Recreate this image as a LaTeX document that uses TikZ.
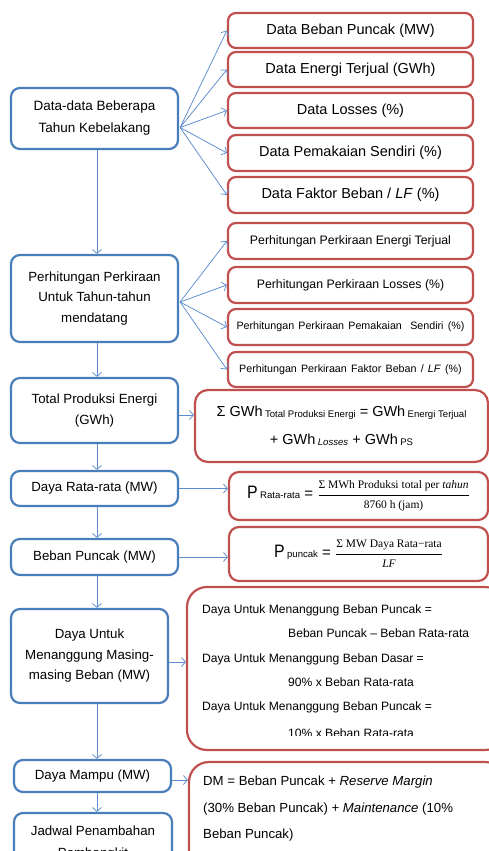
\documentclass[tikz,border=0pt]{standalone}
\usepackage{fontspec}
\setmainfont{Liberation Sans}
\newfontfamily\frsf{Liberation Serif}
\usetikzlibrary{arrows.meta,calc}
\definecolor{bl}{HTML}{4A7EBB}
\definecolor{rd}{HTML}{C0504D}
\definecolor{ln}{HTML}{5B8DCF}
\newcommand\fsz[2]{\fontsize{#1}{#2}\selectfont}
\newcommand\subt[1]{\raisebox{-1.5pt}{\fsz{9.6}{10}#1}}
\newcommand\bigP{\scalebox{0.88}[1]{\fsz{18}{18}P}}
\tikzset{
  bbox/.style={draw=bl, line width=2.2pt, rounded corners=9pt, align=center, inner sep=2pt, fill=white},
  rbox/.style={draw=rd, line width=2.2pt, rounded corners=8pt, align=center, inner sep=2pt, fill=white},
  arr/.style={draw=ln, line width=0.75pt, -{Straight Barb[length=4pt,width=9pt]}},
  txt/.style={anchor=base west, inner sep=0pt},
}
\begin{document}
\begin{tikzpicture}[x=1pt,y=-1pt]
\useasboundingbox (0,0) rectangle (489,851);
\clip (0,0) rectangle (489,851);
\fill[white] (0,0) rectangle (489,851);
% left column
\node[bbox, minimum width=167pt, minimum height=61pt, font=\fsz{13.5}{22}] (A) at (94.5,118.5) {Data-data Beberapa\\Tahun Kebelakang};
\node[bbox, minimum width=167pt, minimum height=87pt, font=\fsz{13.3}{20.5}] (B) at (94.5,298.5) {Perhitungan Perkiraan\\Untuk Tahun-tahun\\mendatang};
\node[bbox, minimum width=167pt, minimum height=65pt, font=\fsz{13.3}{20.5}] (C) at (94.5,410.5) {Total Produksi Energi\\(GWh)};
\node[bbox, minimum width=167pt, minimum height=35pt, font=\fsz{13.3}{20}] (D) at (94.5,488.5) {Daya Rata-rata (MW)};
\node[bbox, minimum width=167pt, minimum height=36pt, font=\fsz{13.3}{20}] (E) at (94.5,557) {Beban Puncak (MW)};
\node[bbox, minimum width=157pt, minimum height=94pt, font=\fsz{13.3}{20.5}] (F) at (89.5,656) {Daya Untuk\\Menanggung Masing-\\masing Beban (MW)};
\node[bbox, minimum width=157pt, minimum height=32pt, font=\fsz{13.3}{20}] (G) at (92.5,776) {Daya Mampu (MW)};
\node[bbox, minimum width=158pt, minimum height=60pt, font=\fsz{13.3}{21.5}] (H) at (93,843) {Jadwal Penambahan\\Pembangkit};
% data boxes
\node[rbox, minimum width=245pt, minimum height=35pt, font=\fsz{14.5}{18}] (D1) at (350.5,30.5) {Data Beban Puncak (MW)};
\node[rbox, minimum width=245pt, minimum height=35pt, font=\fsz{14.5}{18}] (D2) at (350.5,69.5) {Data Energi Terjual (GWh)};
\node[rbox, minimum width=245pt, minimum height=35pt, font=\fsz{14.5}{18}] (D3) at (350.5,110.5) {Data Losses (\%)};
\node[rbox, minimum width=245pt, minimum height=36pt, font=\fsz{14.5}{18}] (D4) at (350.5,153) {Data Pemakaian Sendiri (\%)};
\node[rbox, minimum width=245pt, minimum height=36pt, font=\fsz{14.5}{18}] (D5) at (350.5,195) {Data Faktor Beban / \textit{LF} (\%)};
% perhitungan boxes
\node[rbox, minimum width=245pt, minimum height=36pt, font=\fsz{12.3}{15}] (P1) at (350.5,241) {Perhitungan Perkiraan Energi Terjual};
\node[rbox, minimum width=245pt, minimum height=36pt, font=\fsz{12.3}{15}] (P2) at (350.5,285) {Perhitungan Perkiraan Losses (\%)};
\node[rbox, minimum width=245pt, minimum height=36pt, font=\fsz{10.7}{13}] (P3) at (350.5,327) {\spaceskip=4.2pt Perhitungan Perkiraan Pemakaian\ \ Sendiri (\%)};
\node[rbox, minimum width=245pt, minimum height=35pt, font=\fsz{10.7}{13}] (P4) at (350.5,369.5) {\spaceskip=4.2pt Perhitungan Perkiraan Faktor Beban / \textit{LF} (\%)};
% formula boxes
\node[rbox, rounded corners=13pt, minimum width=293pt, minimum height=72pt, font=\fsz{14.5}{28}] (R1) at (341.5,426)
 {Σ GWh\,\subt{Total Produksi Energi} = GWh\,\subt{Energi Terjual}\\+ GWh\,\subt{\textit{Losses}} + GWh\,\subt{PS}};
\node[rbox, rounded corners=10pt, minimum width=259pt, minimum height=48pt, font=\fsz{15}{18}] (R2) at (358.5,496)
 {\bigP\,{\fsz{9.6}{10}Rata-rata} = $\displaystyle\frac{\hbox{\frsf\fsz{11.5}{12}Σ MWh Produksi total per \textit{tahun}}}{\hbox{\frsf\fsz{11.5}{12}8760 h (jam)}}$};
\node[rbox, rounded corners=10pt, minimum width=259pt, minimum height=54pt, font=\fsz{15}{18}] (R3) at (358.5,554)
 {\bigP\,{\fsz{9.6}{10}puncak} = $\displaystyle\frac{\hbox{\frsf\fsz{11.5}{12}Σ MW Daya Rata−rata}}{\hbox{\frsf\fsz{11.5}{12}\textit{LF}}}$};
\node[rbox, rounded corners=20pt, minimum width=318pt, minimum height=163pt] (R4) at (346,668.5) {};
\node[rbox, rounded corners=20pt, minimum width=316pt, minimum height=120pt] (R5) at (347,822) {};
% R4 text
\begin{scope}[font=\fsz{12.1}{14}]
\clip (190,590) rectangle (480,735);
\node[txt] (t1) at (202,613.5) {Daya Untuk Menanggung Beban Puncak =};
\node[txt] (t2) at (288,637.5) {Beban Puncak – Beban Rata-rata};
\node[txt] (t3) at (202,662) {Daya Untuk Menanggung Beban Dasar =};
\node[txt] (t4) at (288,686.5) {90\% x Beban Rata-rata};
\node[txt] (t5) at (202,710.5) {Daya Untuk Menanggung Beban Puncak =};
\node[txt] (t6) at (288,737.5) {10\% x Beban Rata-rata};
\end{scope}
% R5 text
\begin{scope}[font=\fsz{13.2}{15}]
\node[txt] (u1) at (203,785) {DM = Beban Puncak + \textit{Reserve Margin}};
\node[txt] (u2) at (203,812) {(30\% Beban Puncak) + \textit{Maintenance} (10\%};
\node[txt] (u3) at (203,838) {Beban Puncak)};
\end{scope}
% connectors
\coordinate (xl) at (97,0);
\draw[arr] (A.south -| xl) -- (B.north -| xl);
\draw[arr] (B.south -| xl) -- (C.north -| xl);
\draw[arr] (C.south -| xl) -- (D.north -| xl);
\draw[arr] (D.south -| xl) -- (E.north -| xl);
\draw[arr] (E.south -| xl) -- (F.north -| xl);
\draw[arr] (F.south -| xl) -- (G.north -| xl);
\draw[arr] (G.south -| xl) -- (H.north -| xl);
\coordinate (a0) at ($(A.east)+(1,9)$);
\foreach \n in {D1,D2,D3,D4,D5} \draw[arr] (a0) -- (\n.west);
\coordinate (b0) at ($(B.east)+(1,3.5)$);
\foreach \n in {P1,P2,P3,P4} \draw[arr] (b0) -- (\n.west);
\coordinate (c1) at ($(C.east)+(0,4.5)$);
\draw[arr] (c1) -- (c1 -| R1.west);
\draw[arr] (D.east) -- (D.east -| R2.west);
\draw[arr] (E.east) -- (E.east -| R3.west);
\coordinate (f1) at ($(F.east)+(0,6)$);
\draw[arr] (f1) -- (f1 -| R4.west);
\coordinate (g1) at ($(G.east)+(0,4)$);
\draw[arr] (g1) -- (g1 -| R5.west);
\end{tikzpicture}
\end{document}
